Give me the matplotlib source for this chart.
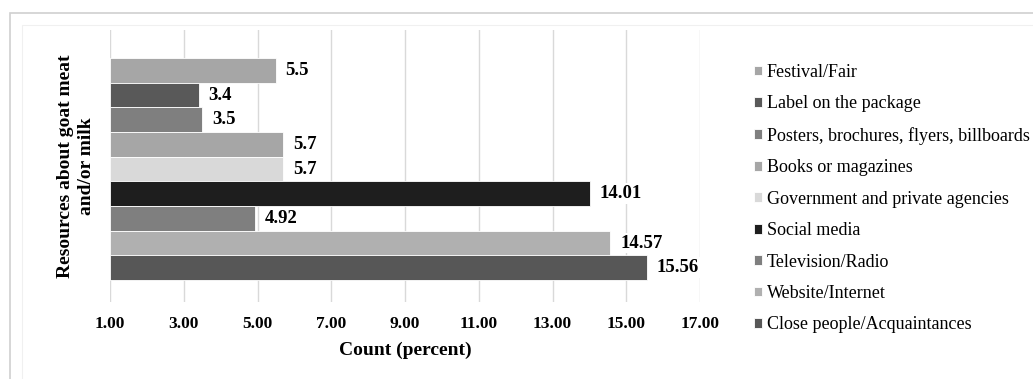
import matplotlib.pyplot as plt
from matplotlib.patches import Rectangle

plt.rcParams['font.family'] = ['Liberation Serif', 'DejaVu Serif']

sources = [
    'Festival/Fair',
    'Label on the package',
    'Posters, brochures, flyers, billboards',
    'Books or magazines',
    'Government and private agencies',
    'Social media',
    'Television/Radio',
    'Website/Internet',
    'Close people/Acquaintances',
]
percent = [5.5, 3.4, 3.5, 5.7, 5.7, 14.01, 4.92, 14.57, 15.56]
value_labels = ['5.5', '3.4', '3.5', '5.7', '5.7', '14.01', '4.92', '14.57', '15.56']
shades = ['#a6a6a6', '#595959', '#7f7f7f', '#a6a6a6', '#d9d9d9',
          '#1e1e1e', '#7f7f7f', '#b0b0b0', '#575757']
x_ticks = [1, 3, 5, 7, 9, 11, 13, 15, 17]

W, H = 1033, 379
fig = plt.figure(figsize=(W / 100, H / 100), dpi=100)
ax = fig.add_axes([110 / W, 1 - 302 / H, 590 / W, 272 / H])

# light frames around the whole chart
fig.patches.append(Rectangle((10 / W, -0.1), 1.2, 1 - 13 / H + 0.1,
                             transform=fig.transFigure, fill=False,
                             edgecolor='#d0d0d0', linewidth=1.2))
fig.patches.append(Rectangle((22 / W, -0.1), 1.2, 1 - 25 / H + 0.1,
                             transform=fig.transFigure, fill=False,
                             edgecolor='#f0f0f0', linewidth=0.8))

handles = []
for i, (name, val, col) in enumerate(zip(sources, percent, shades)):
    # bars start at the axis minimum, like a spreadsheet chart
    h = ax.barh(i, val - 1, left=1, height=1.0, color=col,
                edgecolor='white', linewidth=0.6, label=name, zorder=2)
    handles.append(h)
    ax.annotate(value_labels[i], (val, i), xytext=(7, 0), textcoords='offset points',
                va='center', ha='left', fontsize=13.5, fontweight='bold',
                bbox=dict(boxstyle='square,pad=0.1', fc='white', ec='none'), zorder=3)

ax.set_xlim(1, 17)
ax.set_ylim(9.39, -1.635)
ax.set_xticks(x_ticks)
ax.set_xticklabels([f'{t:.2f}' for t in x_ticks], fontsize=12.5, fontweight='bold')
ax.set_yticks([])
ax.tick_params(axis='x', length=0, pad=10)
ax.grid(axis='x', color='#d9d9d9', linewidth=1.0, zorder=0)
ax.set_axisbelow(True)
for s in ax.spines.values():
    s.set_visible(False)

ax.set_xlabel('Count (percent)', fontsize=14, fontweight='bold', labelpad=7)
ax.set_ylabel('Resources about goat meat\nand/or milk', fontsize=14,
              fontweight='bold', labelpad=11, linespacing=1.25)

fig.legend(handles=handles, loc='upper left', bbox_to_anchor=(754 / W, 1 - 64 / H),
           frameon=False, fontsize=13, handlelength=0.45, handleheight=0.45,
           handletextpad=0.25, labelspacing=0.8, borderaxespad=0, borderpad=0)

fig.savefig('out.png', dpi=100)
